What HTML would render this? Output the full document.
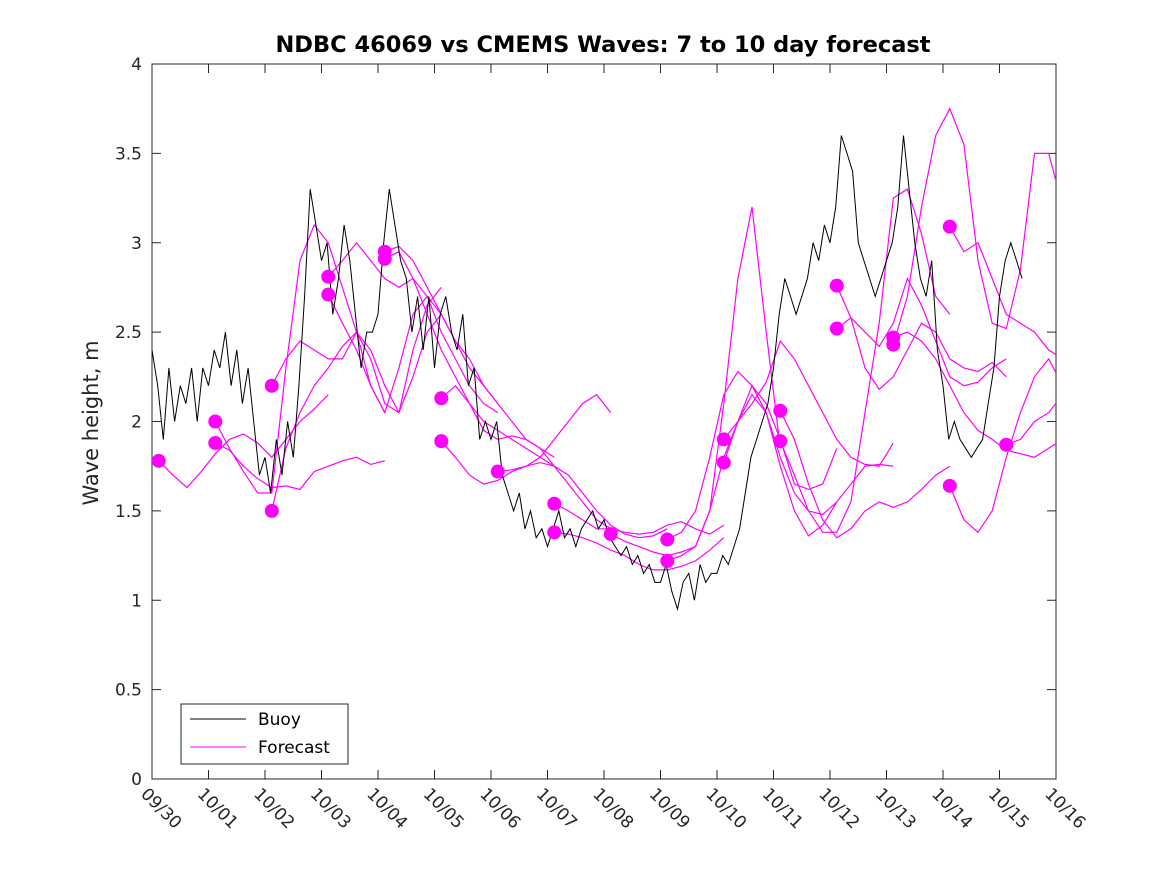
<!DOCTYPE html>
<html><head><meta charset="utf-8"><style>
body{margin:0;background:#fff}
svg text{font-family:"DejaVu Sans","Liberation Sans",sans-serif;fill:#262626}
</style></head><body>
<svg id="chart" width="1167" height="875" xmlns="http://www.w3.org/2000/svg">
<defs><clipPath id="clip"><rect x="152" y="64" width="904" height="715"/></clipPath></defs>
<rect width="1167" height="875" fill="#fff"/>
<text x="603" y="52" text-anchor="middle" font-size="22.5" font-weight="bold" style="fill:#000">NDBC 46069 vs CMEMS Waves: 7 to 10 day forecast</text>
<text transform="translate(98,423) rotate(-90)" text-anchor="middle" font-size="21">Wave height, m</text>
<g id="axes"></g>
<g id="fc" clip-path="url(#clip)"></g>
<g id="buoy" clip-path="url(#clip)"></g>
<g id="dots"></g>
<g>
<rect x="181" y="704" width="167" height="60" fill="#fff" stroke="#262626" stroke-width="1"/>
<line x1="190" y1="719" x2="246" y2="719" stroke="#000"/>
<text x="258" y="725" font-size="17" style="fill:#000">Buoy</text>
<line x1="190" y1="747" x2="246" y2="747" stroke="#ff00ff"/>
<text x="258" y="753" font-size="17" style="fill:#000">Forecast</text>
</g>
</svg>
<script>
const xTickLabels=["09/30","10/01","10/02","10/03","10/04","10/05","10/06","10/07","10/08","10/09","10/10","10/11","10/12","10/13","10/14","10/15","10/16"];
const yTicks=[0,0.5,1,1.5,2,2.5,3,3.5,4];
const yTickLabels=["0","0.5","1","1.5","2","2.5","3","3.5","4"];
const buoyStep=0.1;
const buoyValues=[2.4,2.2,1.9,2.3,2.0,2.2,2.1,2.3,2.0,2.3,
2.2,2.4,2.3,2.5,2.2,2.4,2.1,2.3,2.0,1.7,
1.8,1.6,1.9,1.7,2.0,1.8,2.2,2.7,3.3,3.1,
2.9,3.0,2.6,2.8,3.1,2.9,2.6,2.3,2.5,2.5,
2.6,3.0,3.3,3.1,2.9,2.8,2.5,2.7,2.4,2.7,
2.3,2.6,2.7,2.5,2.4,2.6,2.2,2.3,1.9,2.0,
1.9,2.0,1.7,1.6,1.5,1.6,1.4,1.5,1.35,1.4,
1.3,1.4,1.5,1.35,1.4,1.3,1.4,1.45,1.5,1.4,
1.45,1.35,1.3,1.25,1.3,1.2,1.25,1.15,1.2,1.1,
1.1,1.2,1.05,0.95,1.1,1.15,1.0,1.2,1.1,1.15,
1.15,1.25,1.2,1.3,1.4,1.6,1.8,1.9,2.0,2.1,
2.3,2.6,2.8,2.7,2.6,2.7,2.8,3.0,2.9,3.1,
3.0,3.2,3.6,3.5,3.4,3.0,2.9,2.8,2.7,2.8,
2.9,3.0,3.2,3.6,3.3,3.0,2.8,2.7,2.9,2.4,
2.2,1.9,2.0,1.9,1.85,1.8,1.85,1.9,2.1,2.3,
2.7,2.9,3.0,2.9,2.8];
const fcStep=0.25;
const fcStarts=[0.12,1.12,1.12,2.12,2.12,3.12,3.12,4.12,4.12,5.12,5.12,6.12,7.12,7.12,8.12,9.12,9.12,10.12,10.12,11.12,11.12,12.12,12.12,13.12,13.12,14.12,14.12,15.12];
const fcValues=[
[1.78,1.70,1.63,1.72,1.82,1.90,1.93,1.88,1.80,1.90,2.00,2.07,2.15],
[2.0,1.85,1.72,1.6,1.6,2.3,2.9,3.1,3.0,2.75,2.5,2.2,2.05],
[1.88,1.84,1.75,1.68,1.63,1.64,1.62,1.72,1.75,1.78,1.80,1.76,1.78],
[2.2,2.35,2.45,2.4,2.35,2.35,2.5,2.35,2.1,2.05,2.4,2.65,2.75],
[1.5,1.85,2.05,2.2,2.3,2.42,2.5,2.4,2.2,2.05,2.25,2.5,2.6],
[2.81,2.9,3.0,2.9,2.8,2.75,2.8,2.7,2.5,2.35,2.2,2.1,2.05],
[2.71,2.55,2.4,2.2,2.05,2.3,2.6,2.7,2.6,2.45,2.3,2.2,2.1],
[2.95,2.98,2.9,2.75,2.6,2.45,2.35,2.2,2.1,2.0,1.9,1.85,1.8],
[2.91,2.95,2.8,2.6,2.4,2.25,2.1,2.0,1.95,1.9,1.85,1.8,1.75],
[2.13,2.2,2.1,1.95,1.9,1.92,1.9,1.85,1.75,1.65,1.55,1.45,1.4],
[1.89,1.8,1.7,1.65,1.67,1.72,1.75,1.8,1.9,2.0,2.1,2.15,2.05],
[1.72,1.73,1.75,1.77,1.75,1.7,1.6,1.5,1.42,1.37,1.35,1.36,1.4],
[1.54,1.5,1.45,1.4,1.4,1.38,1.37,1.38,1.42,1.44,1.4,1.37,1.42],
[1.38,1.37,1.35,1.32,1.28,1.25,1.2,1.17,1.17,1.19,1.22,1.28,1.35],
[1.37,1.33,1.3,1.27,1.25,1.27,1.3,1.5,2.1,2.8,3.2,2.5,1.85],
[1.34,1.38,1.5,1.8,2.15,2.28,2.2,2.1,1.9,1.65,1.62,1.65,1.85],
[1.22,1.25,1.3,1.5,1.8,2.0,2.15,2.05,1.8,1.6,1.5,1.48,1.55],
[1.9,2.0,2.1,2.22,2.45,2.35,2.2,2.05,1.9,1.8,1.76,1.75,1.88],
[1.77,2.0,2.2,2.05,1.75,1.5,1.36,1.42,1.55,1.65,1.75,1.76,1.75],
[2.06,1.9,1.65,1.45,1.35,1.4,1.5,1.55,1.52,1.55,1.62,1.7,1.75],
[1.89,1.7,1.5,1.38,1.38,1.55,2.05,2.55,3.25,3.3,3.05,2.7,2.6],
[2.76,2.58,2.3,2.18,2.25,2.4,2.55,2.5,2.35,2.3,2.28,2.33,2.25],
[2.52,2.58,2.5,2.42,2.55,2.8,2.65,2.45,2.25,2.2,2.22,2.3,2.35],
[2.47,2.5,2.45,2.35,2.2,2.05,1.95,1.9,1.84,1.82,1.8,1.85,1.9],
[2.43,2.7,3.2,3.6,3.75,3.55,2.9,2.55,2.52,2.85,3.5,3.5,3.2],
[3.09,2.95,3.0,2.8,2.6,2.55,2.5,2.4,2.35,2.4,2.45,2.48,2.5],
[1.64,1.45,1.38,1.5,1.8,2.05,2.25,2.35,2.2,2.15,2.2,2.25,2.25],
[1.87,1.9,2.0,2.05,2.15,2.25,2.3,2.25]];
const X0=152,X1=1056,Y0=779,Y1=64,DAYS=16,YMAX=4;
const xs=t=>X0+(X1-X0)*t/DAYS;
const ys=v=>Y0-(Y0-Y1)*v/YMAX;
const NS="http://www.w3.org/2000/svg";
function mk(tag,attrs,parent){const e=document.createElementNS(NS,tag);for(const k in attrs)e.setAttribute(k,attrs[k]);parent.appendChild(e);return e;}
const axes=document.getElementById('axes');
const frame=mk('rect',{x:X0,y:Y1,width:X1-X0,height:Y0-Y1,fill:'none',stroke:'#262626','stroke-width':1},axes);


yTicks.forEach((v,i)=>{const y=ys(v);
mk('line',{x1:X0,y1:y,x2:X0+9,y2:y,stroke:'#262626'},axes);
mk('line',{x1:X1,y1:y,x2:X1-9,y2:y,stroke:'#262626'},axes);
const t=mk('text',{x:X0-10,y:y+6,'text-anchor':'end','font-size':17},axes);t.textContent=yTickLabels[i];

});
xTickLabels.forEach((s,i)=>{const x=xs(i);
mk('line',{x1:x,y1:Y0,x2:x,y2:Y0-9,stroke:'#262626'},axes);
mk('line',{x1:x,y1:Y1,x2:x,y2:Y1+9,stroke:'#262626'},axes);
const t=mk('text',{x:0,y:0,'font-size':17,transform:`translate(${x-12},${Y0+16}) rotate(45)`},axes);t.textContent=s;

});
const fc=document.getElementById('fc'),dots=document.getElementById('dots');
fcValues.forEach((arr,k)=>{const t0=fcStarts[k];
const d=arr.map((v,i)=>(i?'L':'M')+xs(t0+i*fcStep).toFixed(1)+' '+ys(v).toFixed(1)).join(' ');
const p=mk('path',{d:d,fill:'none',stroke:'#ff00ff','stroke-width':1.2},fc);


const c=mk('circle',{cx:xs(t0),cy:ys(arr[0]),r:7,fill:'#ff00ff'},dots);

});
const bd=buoyValues.map((v,i)=>(i?'L':'M')+xs(i*buoyStep).toFixed(1)+' '+ys(v).toFixed(1)).join(' ');
const bp=mk('path',{d:bd,fill:'none',stroke:'#000','stroke-width':1},document.getElementById('buoy'));


</script>
</body></html>
